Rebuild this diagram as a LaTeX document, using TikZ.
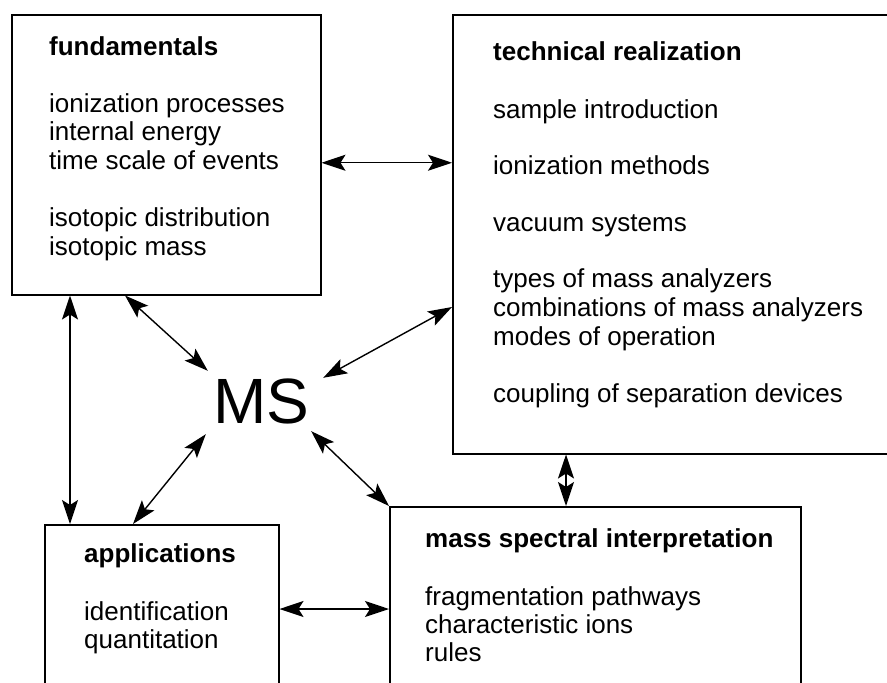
\documentclass[tikz,border=0pt]{standalone}
\usepackage{fontspec}
\setmainfont{Liberation Sans}
\usetikzlibrary{arrows.meta}
\begin{document}
\begin{tikzpicture}[x=1pt,y=-1pt,
  box/.style={draw, line width=1.5pt, rectangle, inner sep=0pt, anchor=north west},
  txt/.style={anchor=base west, inner sep=0pt, font=\fontsize{26}{28.5}\selectfont},
  ttl/.style={anchor=base west, inner sep=0pt, font=\fontsize{26}{28.5}\selectfont\bfseries},
  link/.style={line width=1.4pt, {Stealth[length=24pt,width=16pt,inset=5pt]}-{Stealth[length=24pt,width=16pt,inset=5pt]}}
]
\useasboundingbox (0,0) rectangle (887,683);
% boxes
\node[box, minimum width=309pt, minimum height=280pt] (fund) at (11,14) {};
\node[box, minimum width=460pt, minimum height=439pt] (tech) at (452,14) {};
\node[box, minimum width=234pt, minimum height=220pt] (apps) at (44,524) {};
\node[box, minimum width=411pt, minimum height=220pt] (mass) at (389,506) {};
\node[inner sep=0pt, minimum width=110pt, minimum height=60pt, font=\fontsize{64}{70}\selectfont] (ms) at (261,401) {MS};
% fundamentals text
\node[ttl] (f0) at (49,55) {fundamentals};
\node[txt] (f1) at (49,112) {ionization processes};
\node[txt] (f2) at (49,140.5) {internal energy};
\node[txt] (f3) at (49,169) {time scale of events};
\node[txt] (f4) at (49,226.5) {isotopic distribution};
\node[txt] (f5) at (49,255) {isotopic mass};
% technical realization text
\node[ttl] (t0) at (493,60) {technical realization};
\node[txt] (t1) at (493,118) {sample introduction};
\node[txt] (t2) at (493,174) {ionization methods};
\node[txt] (t3) at (493,231) {vacuum systems};
\node[txt] (t4) at (493,287) {types of mass analyzers};
\node[txt] (t5) at (493,316) {combinations of mass analyzers};
\node[txt] (t6) at (493,345) {modes of operation};
\node[txt] (t7) at (493,402) {coupling of separation devices};
% applications text
\node[ttl] (a0) at (84,562) {applications};
\node[txt] (a1) at (84,620) {identification};
\node[txt] (a2) at (84,648) {quantitation};
% mass spectral interpretation text
\node[ttl] (m0) at (425,547) {mass spectral interpretation};
\node[txt] (m1) at (425,605) {fragmentation pathways};
\node[txt] (m2) at (425,633) {characteristic ions};
\node[txt] (m3) at (425,661) {rules};
% connectors
\draw[link] ([yshift=-8pt]fund.east) -- ([yshift=-8pt]fund.east -| tech.west);
\draw[link] ([xshift=59pt]fund.south west) -- ([xshift=59pt]fund.south west |- apps.north);
\draw[link] ([xshift=177pt]mass.north west) -- ([xshift=177pt]mass.north west |- tech.south);
\draw[link] ([yshift=-85pt]apps.north east) -- ([yshift=-85pt]apps.north east -| mass.west);
\draw[link] ([xshift=114pt]fund.south west) -- ([xshift=2pt]ms.north west);
\draw[link] ([yshift=-293pt]tech.north west) -- ([shift={(7pt,-7pt)}]ms.north east);
\draw[link] ([xshift=89pt]apps.north west) -- ([yshift=-3pt]ms.south west);
\draw[link] (mass.north west) -- ([xshift=-5pt]ms.south east);
\end{tikzpicture}
\end{document}
